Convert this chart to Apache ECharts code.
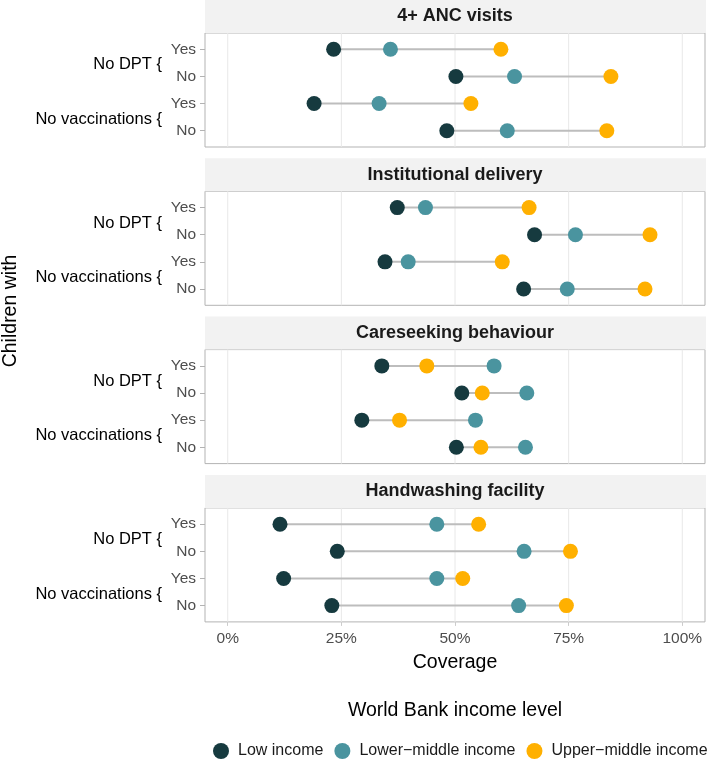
<!DOCTYPE html>
<html>
<head>
<meta charset="utf-8">
<script src="https://cdn.jsdelivr.net/npm/echarts@6/dist/echarts.min.js"></script>
<style>
html,body{margin:0;padding:0;background:#fff;}
#chart{width:714px;height:771px;}
</style>
</head>
<body>
<div id="chart"></div>
<script>
// ---- data ----
var panels = ['4+ ANC visits', 'Institutional delivery', 'Careseeking behaviour', 'Handwashing facility'];
var rowLabels = ['Yes', 'No', 'Yes', 'No'];
var groupLabels = ['No DPT {', 'No vaccinations {'];
var seriesNames = ['Low income', 'Lower\u2212middle income', 'Upper\u2212middle income'];
var lowIncome   = [[23.3, 50.2, 19.0, 48.2], [37.3, 67.5, 34.6, 65.1], [33.9, 51.5, 29.5, 50.3], [11.5, 24.1, 12.3, 22.9]];
var lowerMiddle = [[35.8, 63.1, 33.3, 61.5], [43.5, 76.5, 39.7, 74.7], [58.6, 65.8, 54.5, 65.5], [46.0, 65.2, 46.0, 64.0]];
var upperMiddle = [[60.1, 84.3, 53.5, 83.4], [66.3, 92.9, 60.4, 91.8], [43.8, 56.0, 37.8, 55.7], [55.2, 75.4, 51.7, 74.5]];
var xTicks = [0, 25, 50, 75, 100];
var rowTicks = [0, 1, 2, 3];

// ---- styles ----
var colors = ['#163A3F', '#4A949F', '#FFB000'];
var FONT = 'Liberation Sans, Arial, sans-serif';
var gridLeft = 205, gridWidth = 500, gridH = 114, firstTop = 33, step = 158.3, stripH = 33;

var chart = echarts.init(document.getElementById('chart'));
var grids = [], xAxes = [], yAxes = [], series = [], graphics = [];
var allSets = [lowIncome, lowerMiddle, upperMiddle];

panels.forEach(function (p, i) {
  var top = firstTop + i * step;
  var last = i === panels.length - 1;
  grids.push({left: gridLeft, top: top, width: gridWidth, height: gridH, show: true,
    borderColor: '#b3b3b3', borderWidth: 1, backgroundColor: '#fff', containLabel: false});
  xAxes.push({type: 'value', gridIndex: i, min: -5, max: 105, position: 'bottom',
    axisLine: {show: false, onZero: false}, splitLine: {show: false},
    axisTick: {show: last, customValues: xTicks, length: 4, lineStyle: {color: '#cccccc'}},
    axisLabel: {show: last, customValues: xTicks, formatter: function (v) { return v + '%'; },
      color: '#4d4d4d', fontSize: 15.5, fontFamily: FONT, margin: 9},
    name: last ? 'Coverage' : '', nameLocation: 'middle', nameGap: 31,
    nameTextStyle: {color: '#000', fontSize: 19.5, fontFamily: FONT}});
  yAxes.push({type: 'value', gridIndex: i, min: -0.6, max: 3.6, inverse: true, position: 'left',
    axisLine: {show: false, onZero: false}, splitLine: {show: false},
    axisTick: {show: true, customValues: rowTicks, length: 5, lineStyle: {color: '#b3b3b3'}},
    axisLabel: {customValues: rowTicks, formatter: function (v) { return rowLabels[v]; },
      color: '#4d4d4d', fontSize: 15.5, fontFamily: FONT, margin: 9}});
  // gridlines
  series.push({type: 'custom', xAxisIndex: i, yAxisIndex: i, silent: true, z: 1,
    data: xTicks.map(function (t) { return [t]; }),
    renderItem: function (params, api) {
      var cs = params.coordSys;
      var x = api.coord([api.value(0), 0])[0];
      return {type: 'line', shape: {x1: x, y1: cs.y, x2: x, y2: cs.y + cs.height},
        style: {stroke: '#e8e8e8', lineWidth: 1}};
    }});
  // segments
  var segData = rowLabels.map(function (r, k) {
    var vals = allSets.map(function (s) { return s[i][k]; });
    return [Math.min.apply(null, vals), Math.max.apply(null, vals), k];
  });
  series.push({type: 'custom', xAxisIndex: i, yAxisIndex: i, silent: true, z: 2,
    data: segData,
    renderItem: function (params, api) {
      var a = api.coord([api.value(0), api.value(2)]);
      var b = api.coord([api.value(1), api.value(2)]);
      return {type: 'line', shape: {x1: a[0], y1: a[1], x2: b[0], y2: b[1]},
        style: {stroke: '#bdbdbd', lineWidth: 2}};
    }});
  allSets.forEach(function (s, j) {
    series.push({type: 'scatter', name: seriesNames[j], xAxisIndex: i, yAxisIndex: i, z: 3,
      symbolSize: 15, itemStyle: {color: colors[j], opacity: 1},
      data: s[i].map(function (v, k) { return [v, k]; })});
  });
  // strip
  graphics.push({type: 'rect', left: gridLeft, top: top - stripH,
    shape: {width: gridWidth + 1, height: stripH}, style: {fill: '#f2f2f2'}});
  graphics.push({type: 'text', x: gridLeft + gridWidth / 2, y: top - stripH / 2,
    style: {text: p, fill: '#1a1a1a', font: 'bold 18px ' + FONT, align: 'center', verticalAlign: 'middle'}});
});

graphics.push({type: 'text', x: 11, y: (firstTop - stripH + firstTop + 3 * step + gridH) / 2, rotation: Math.PI / 2,
  style: {text: 'Children with', fill: '#000', font: '19.5px ' + FONT, align: 'center', verticalAlign: 'middle'}});
graphics.push({type: 'text', x: 455, y: 711,
  style: {text: 'World Bank income level', fill: '#000', font: '19.5px ' + FONT, align: 'center', verticalAlign: 'middle'}});

chart.setOption({
  animation: false,
  grid: grids, xAxis: xAxes, yAxis: yAxes, series: series,
  legend: {data: seriesNames, left: 208, top: 738, icon: 'circle', itemWidth: 16, itemHeight: 16,
    itemGap: 11, textStyle: {color: '#1a1a1a', fontSize: 16, fontFamily: FONT, padding: [0, 0, 0, 4]}},
  graphic: graphics
});

// group labels positioned through axis scale
var gl = [];
panels.forEach(function (p, i) {
  [0.5, 2.5].forEach(function (yv, g) {
    var pt = chart.convertToPixel({gridIndex: i}, [0, yv]);
    gl.push({type: 'text', x: 162, y: pt[1] + 2,
      style: {text: groupLabels[g], fill: '#000', font: '16.5px ' + FONT, align: 'right', verticalAlign: 'middle'}});
  });
});
chart.setOption({graphic: graphics.concat(gl)});
</script>
</body>
</html>
